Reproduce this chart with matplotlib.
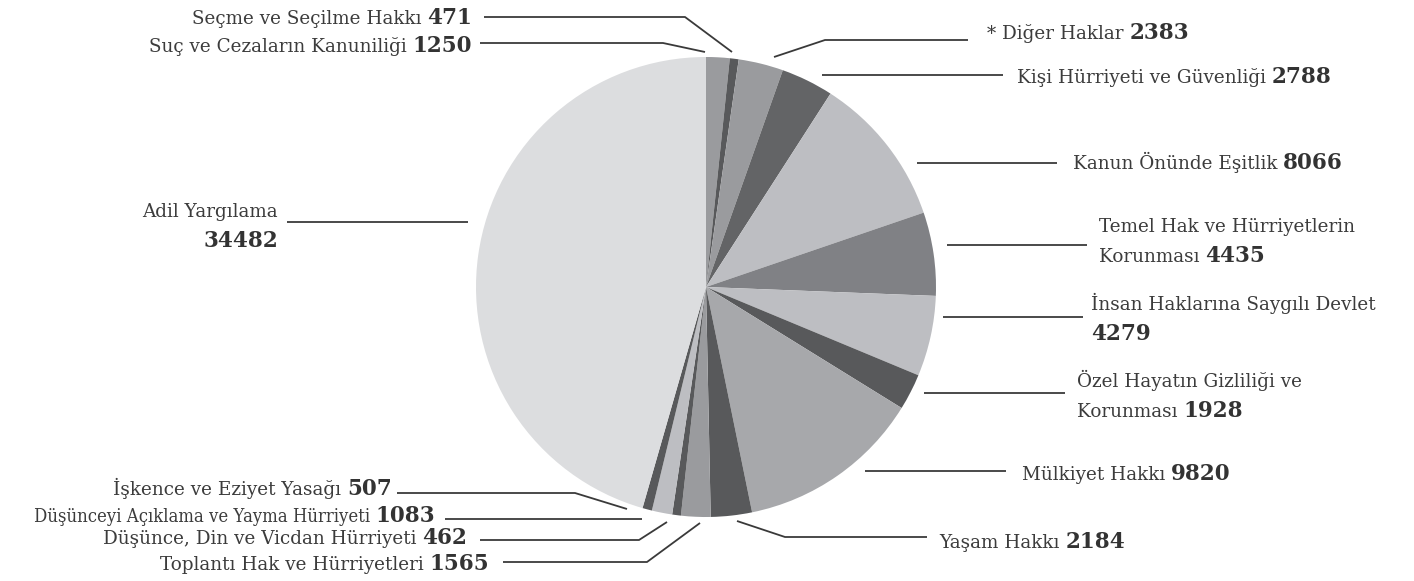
import matplotlib
matplotlib.use("Agg")
import matplotlib.pyplot as plt

# ---------------- data (clockwise from 12 o'clock) ----------------
labels = [
    "Suç ve Cezaların Kanuniliği",
    "Seçme ve Seçilme Hakkı",
    "* Diğer Haklar",
    "Kişi Hürriyeti ve Güvenliği",
    "Kanun Önünde Eşitlik",
    "Temel Hak ve Hürriyetlerin\nKorunması",
    "İnsan Haklarına Saygılı Devlet\n",
    "Özel Hayatın Gizliliği ve\nKorunması",
    "Mülkiyet Hakkı",
    "Yaşam Hakkı",
    "Toplantı Hak ve Hürriyetleri",
    "Düşünce, Din ve Vicdan Hürriyeti",
    "Düşünceyi Açıklama ve Yayma Hürriyeti",
    "İşkence ve Eziyet Yasağı",
    "Adil Yargılama\n",
]
values = [1250, 471, 2383, 2788, 8066, 4435, 4279, 1928, 9820, 2184,
          1565, 462, 1083, 507, 34482]

# ---------------- styles ----------------
colors = ["#9a9b9e", "#58595b", "#9a9b9e", "#636466", "#bdbec2", "#808185",
          "#bdbec2", "#58595b", "#a7a8ab", "#58595b", "#9a9b9e", "#58595b",
          "#bdbec2", "#58595b", "#dcdddf"]

W, H = 1414, 581
CX, CY, R = 706, 287, 230
TXT = "#3c3c3c"
LINE = "#3a3a3a"
LBL_FONT = dict(family="DejaVu Serif", size=13.2, color=TXT)
NUM_FONT = dict(family="DejaVu Serif", size=15.5, weight="bold", color="#333333")
LINE_GAP = 30  # px between two text lines

# label layout: (anchor x, first baseline y, ha, leader polyline) in image px
layout = [
    (472, 52, "right", [(480, 43), (663, 43), (705, 52)]),
    (472, 24, "right", [(484, 17), (685, 17), (732, 52)]),
    (987, 39, "left", [(774, 57), (825, 40), (968, 40)]),
    (1017, 83, "left", [(822, 75), (1003, 75)]),
    (1073, 169, "left", [(917, 163), (1057, 163)]),
    (1099, 232, "left", [(947, 245), (1087, 245)]),
    (1091, 310, "left", [(943, 317), (1083, 317)]),
    (1077, 387, "left", [(924, 393), (1065, 393)]),
    (1022, 480, "left", [(865, 471), (1006, 471)]),
    (939, 548, "left", [(737, 521), (785, 537), (927, 537)]),
    (489, 570, "right", [(503, 562), (647, 562), (700, 523)]),
    (467, 544, "right", [(480, 540), (639, 540), (667, 522)]),
    (435, 522, "right", [(445, 519), (642, 519)]),
    (392, 495, "right", [(397, 493), (575, 493), (627, 509)]),
    (278, 217, "right", [(287, 222), (468, 222)]),
]

fig = plt.figure(figsize=(W / 100, H / 100), dpi=100)
ax = fig.add_axes([0, 0, 1, 1])
ax.pie(values, colors=colors, startangle=90, counterclock=False,
       center=(CX, H - CY), radius=R, frame=True,
       wedgeprops=dict(linewidth=0, edgecolor="none", antialiased=True))
ax.set_xlim(0, W)
ax.set_ylim(0, H)
ax.set_aspect("auto")
ax.axis("off")

renderer = fig.canvas.get_renderer()


def width_of(t):
    return t.get_window_extent(renderer).width


for lab, val, (x, y, ha, pts) in zip(labels, values, layout):
    xs = [p[0] for p in pts]
    ys = [H - p[1] for p in pts]
    ax.plot(xs, ys, color=LINE, lw=1.3, solid_capstyle="butt")

    lines = lab.split("\n")
    first, last = lines[:-1], lines[-1]
    extra = {}
    if lab.startswith("Düşünceyi"):
        extra = dict(fontstretch="condensed")
    # preceding full lines
    for i, ln in enumerate(first):
        ax.text(x, H - (y + i * LINE_GAP), ln, ha=ha, va="baseline", **LBL_FONT)
    yb = H - (y + len(first) * LINE_GAP)
    num = f"{val}"
    if ha == "left":
        if last:
            t = ax.text(x, yb, last + " ", ha="left", va="baseline", **LBL_FONT, **extra)
            xn = x + width_of(t)
        else:
            xn = x
        ax.text(xn, yb, num, ha="left", va="baseline", **NUM_FONT)
    else:
        tn = ax.text(x, yb, num, ha="right", va="baseline", **NUM_FONT)
        if last:
            ax.text(x - width_of(tn), yb, last + " ", ha="right", va="baseline",
                    **LBL_FONT, **extra)

fig.savefig("out.png", dpi=100, facecolor="white")
